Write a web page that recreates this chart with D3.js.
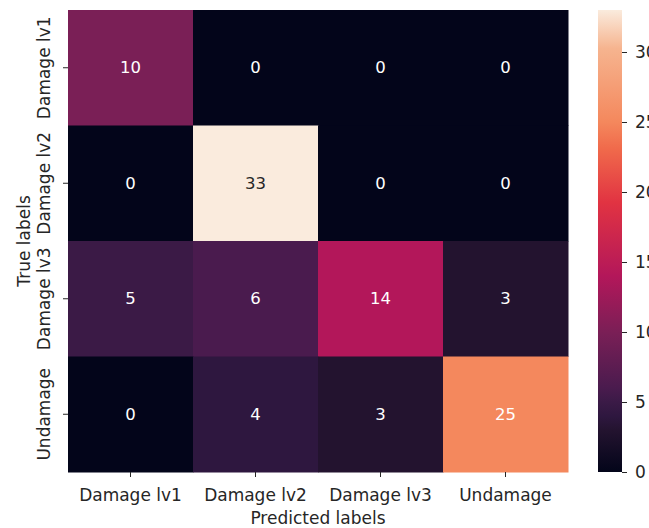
<!DOCTYPE html>
<html>
<head>
<meta charset="utf-8">
<script src="https://cdn.jsdelivr.net/npm/d3@7"></script>
<style>
  html, body { margin: 0; padding: 0; background: #fff; }
  svg { display: block; font-family: "DejaVu Sans", sans-serif; }
</style>
</head>
<body>
<svg id="chart" width="649" height="528"></svg>
<script>
// Confusion matrix: rows = true class, columns = predicted class
const trueLabels = ["Damage lv1", "Damage lv2", "Damage lv3", "Undamage"];
const predLabels = ["Damage lv1", "Damage lv2", "Damage lv3", "Undamage"];
const counts = [
  [10, 0, 0, 0],
  [0, 33, 0, 0],
  [5, 6, 14, 3],
  [0, 4, 3, 25]
];
const colorbarTicks = [0, 5, 10, 15, 20, 25, 30];

// "rocket"-style sequential colormap stops
const rocketStops = [
  [0.000, "#03051a"],
  [0.090, "#23132f"],
  [0.120, "#2e173f"],
  [0.150, "#3a1a46"],
  [0.182, "#4a1b4e"],
  [0.300, "#791f56"],
  [0.424, "#b3175a"],
  [0.583, "#e13342"],
  [0.700, "#f06a4b"],
  [0.758, "#f4885d"],
  [0.917, "#f6b48f"],
  [1.000, "#faebdd"]
];

const FONT = 17;
const INK = "#262626";

const svg = d3.select("#chart");
const margin = { left: 68, top: 10, right: 568, bottom: 472 };
const vmax = d3.max(counts.flat());

const x = d3.scaleBand().domain(predLabels).range([margin.left, margin.right]);
const y = d3.scaleBand().domain(trueLabels).range([margin.top, margin.bottom]);

const stopScale = d3.scaleLinear()
  .domain(rocketStops.map(d => d[0]))
  .range(rocketStops.map(d => d[1]))
  .interpolate(d3.interpolateRgb)
  .clamp(true);
const color = v => stopScale(v / vmax);

// Cells
const cells = [];
counts.forEach((row, i) => row.forEach((v, j) => cells.push({ t: trueLabels[i], p: predLabels[j], v })));

svg.append("g").selectAll("rect").data(cells).join("rect")
  .attr("x", d => x(d.p))
  .attr("y", d => y(d.t))
  .attr("width", x.bandwidth() + 0.5)
  .attr("height", y.bandwidth() + 0.5)
  .attr("fill", d => color(d.v));

// Annotations: dark text on very light cells, light otherwise
function luminance(c) {
  const rgb = d3.rgb(c);
  const lin = ch => { ch /= 255; return ch <= 0.03928 ? ch / 12.92 : Math.pow((ch + 0.055) / 1.055, 2.4); };
  return 0.2126 * lin(rgb.r) + 0.7152 * lin(rgb.g) + 0.0722 * lin(rgb.b);
}
svg.append("g").selectAll("text").data(cells).join("text")
  .attr("x", d => x(d.p) + x.bandwidth() / 2)
  .attr("y", d => y(d.t) + y.bandwidth() / 2)
  .attr("text-anchor", "middle")
  .attr("dominant-baseline", "central")
  .attr("font-size", 16.5)
  .attr("fill", d => luminance(color(d.v)) > 0.408 ? INK : "#ffffff")
  .text(d => d.v);

// X axis
const xAxis = svg.append("g")
  .attr("transform", `translate(0,${margin.bottom})`)
  .call(d3.axisBottom(x).tickSize(5).tickPadding(12));
xAxis.select(".domain").remove();
xAxis.selectAll(".tick line").attr("stroke", INK);
xAxis.selectAll(".tick text").attr("font-size", FONT).attr("fill", INK)
  .attr("font-family", "DejaVu Sans, sans-serif");

// Y axis with vertical labels
const yAxis = svg.append("g")
  .attr("transform", `translate(${margin.left},0)`)
  .call(d3.axisLeft(y).tickSize(5));
yAxis.select(".domain").remove();
yAxis.selectAll(".tick line").attr("stroke", INK);
yAxis.selectAll(".tick text")
  .attr("font-size", FONT).attr("fill", INK)
  .attr("font-family", "DejaVu Sans, sans-serif")
  .attr("text-anchor", "middle")
  .attr("dy", null)
  .attr("x", null)
  .attr("transform", "translate(-18,0) rotate(-90)")
  .attr("dominant-baseline", "auto");

// Axis titles
svg.append("text")
  .attr("x", (margin.left + margin.right) / 2)
  .attr("y", 524)
  .attr("text-anchor", "middle")
  .attr("font-size", FONT).attr("fill", INK)
  .text("Predicted labels");
svg.append("text")
  .attr("transform", `translate(30,${(margin.top + margin.bottom) / 2}) rotate(-90)`)
  .attr("text-anchor", "middle")
  .attr("font-size", FONT).attr("fill", INK)
  .text("True labels");

// Colorbar
const cb = { x0: 598, x1: 622 };
const cbScale = d3.scaleLinear().domain([0, vmax]).range([margin.bottom, margin.top]);
const defs = svg.append("defs");
const grad = defs.append("linearGradient").attr("id", "cbgrad")
  .attr("x1", 0).attr("y1", 1).attr("x2", 0).attr("y2", 0);
grad.selectAll("stop").data(rocketStops).join("stop")
  .attr("offset", d => d[0])
  .attr("stop-color", d => d[1]);
svg.append("rect")
  .attr("x", cb.x0).attr("y", margin.top)
  .attr("width", cb.x1 - cb.x0).attr("height", margin.bottom - margin.top)
  .attr("fill", "url(#cbgrad)");

const cbAxis = svg.append("g")
  .attr("transform", `translate(${cb.x1},0)`)
  .call(d3.axisRight(cbScale).tickValues(colorbarTicks).tickSize(5).tickPadding(8));
cbAxis.select(".domain").remove();
cbAxis.selectAll(".tick line").attr("stroke", INK);
cbAxis.selectAll(".tick text").attr("font-size", FONT).attr("fill", INK)
  .attr("font-family", "DejaVu Sans, sans-serif");
</script>
</body>
</html>
